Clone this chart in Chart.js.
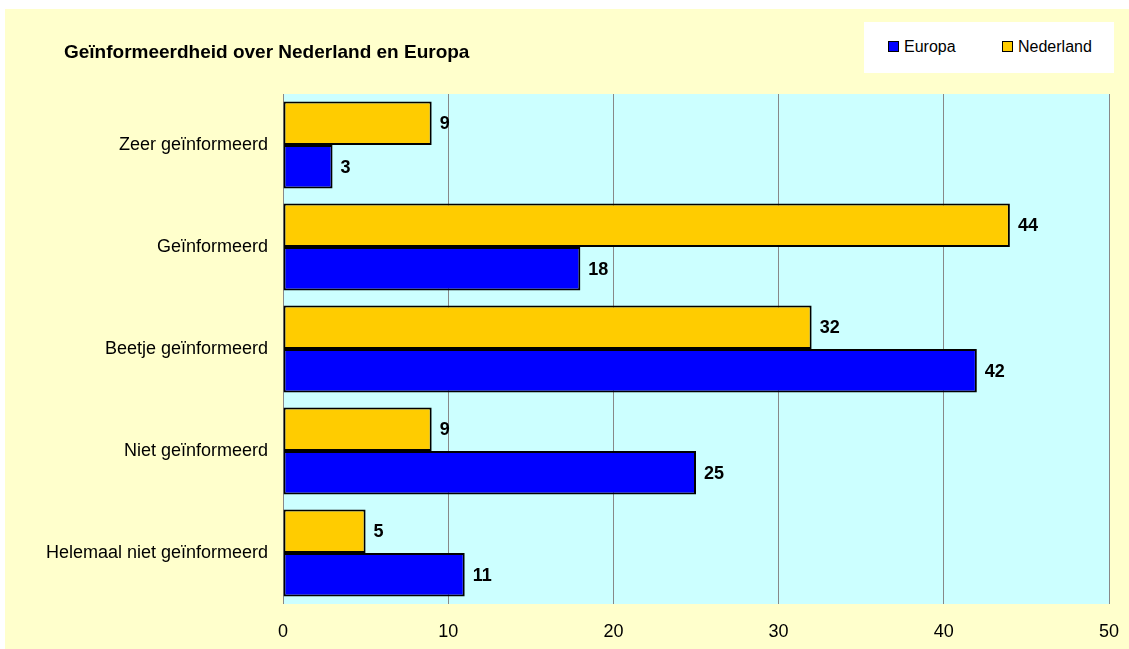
<!DOCTYPE html>
<html>
<head>
<meta charset="utf-8">
<script src="https://cdn.jsdelivr.net/npm/chart.js@4.4.0/dist/chart.umd.min.js"></script>
<style>
  html, body { margin: 0; padding: 0; background: #ffffff; }
  #wrap { position: relative; width: 1129px; height: 649px; overflow: hidden; }
  #bg { position: absolute; left: 5px; top: 9px; right: 0; bottom: 0; background: #FFFFCC; }
  #chartBox { position: absolute; left: 0; top: 0; width: 1129px; height: 649px; }
  #title {
    position: absolute; left: 64px; top: 41px;
    font: bold 19px "Liberation Sans", Arial, sans-serif; line-height: 22px; color: #000;
  }
  #legend {
    position: absolute; left: 864px; top: 22px; width: 250px; height: 51px;
    background: #ffffff; font: 16px "Liberation Sans", Arial, sans-serif; color: #000;
  }
  #legend .item { position: absolute; top: 15px; line-height: 20px; white-space: nowrap; }
  #legend .sw {
    display: inline-block; width: 9px; height: 9px; border: 1px solid #000;
    margin-right: 5px; vertical-align: 0px;
  }
</style>
</head>
<body>
<div id="wrap">
  <div id="bg"></div>
  <div id="chartBox"><canvas id="chart"></canvas></div>
  <div id="title">Geïnformeerdheid over Nederland en Europa</div>
  <div id="legend"></div>
</div>
<script>
// chart data
const categories = ['Zeer geïnformeerd', 'Geïnformeerd', 'Beetje geïnformeerd', 'Niet geïnformeerd', 'Helemaal niet geïnformeerd'];
const nederland = [9, 44, 32, 9, 5];
const europa = [3, 18, 42, 25, 11];
const xTicks = [0, 10, 20, 30, 40, 50];

const FONT = '"Liberation Sans", Arial, sans-serif';

// cyan plot background
const plotBg = {
    id: 'plotBg',
    beforeDraw(chart) {
        const a = chart.chartArea;
        const ctx = chart.ctx;
        ctx.save();
        ctx.fillStyle = '#CCFFFF';
        ctx.fillRect(a.left, a.top, a.right - a.left, a.bottom - a.top);
        ctx.restore();
    }
};

// value labels right of each bar
const valueLabels = {
    id: 'valueLabels',
    afterDatasetsDraw(chart) {
        const ctx = chart.ctx;
        ctx.save();
        ctx.font = 'bold 18px ' + FONT;
        ctx.fillStyle = '#000';
        ctx.textAlign = 'left';
        ctx.textBaseline = 'middle';
        chart.data.datasets.forEach(function(ds, i) {
            chart.getDatasetMeta(i).data.forEach(function(el, j) {
                ctx.fillText(String(ds.data[j]), el.x + 8, el.y + 1);
            });
        });
        ctx.restore();
    }
};

const ctx = document.getElementById('chart').getContext('2d');
const chart = new Chart(ctx, {
    type: 'bar',
    data: {
        labels: categories,
        datasets: [{
            label: 'Nederland',
            data: nederland,
            backgroundColor: '#FFCC00',
            borderColor: '#000000',
            borderWidth: 2,
            borderSkipped: false
        }, {
            label: 'Europa',
            data: europa,
            backgroundColor: '#0000FF',
            borderColor: '#000000',
            borderWidth: 2,
            borderSkipped: false
        }]
    },
    options: {
        indexAxis: 'y',
        responsive: true,
        maintainAspectRatio: false,
        animation: false,
        categoryPercentage: 0.855,
        barPercentage: 1.0,
        layout: { padding: { top: 94, right: 20, left: 0, bottom: 0 } },
        scales: {
            x: {
                min: 0,
                max: 50,
                afterBuildTicks: function(scale) {
                    scale.ticks = xTicks.map(function(v) { return { value: v }; });
                },
                afterFit: function(scale) {
                    scale.height = 45;
                    scale.paddingLeft = 0;
                    scale.paddingRight = 0;
                },
                grid: { color: '#888888', lineWidth: 1, drawTicks: false },
                border: { display: false },
                ticks: { color: '#000', font: { family: FONT, size: 18 }, padding: 17 }
            },
            y: {
                afterFit: function(scale) { scale.width = 283; },
                grid: { display: false, drawTicks: false },
                border: { display: false },
                ticks: { color: '#000', font: { family: FONT, size: 18 }, padding: 15 }
            }
        },
        plugins: {
            legend: { display: false },
            title: { display: false },
            tooltip: { enabled: false }
        }
    },
    plugins: [plotBg, valueLabels]
});

// html legend, Europa first like the original
const legendEl = document.getElementById('legend');
const lefts = [24, 138];
chart.data.datasets.slice().reverse().forEach(function(ds, i) {
    const item = document.createElement('div');
    item.className = 'item';
    item.style.left = lefts[i] + 'px';
    item.innerHTML = '<span class="sw" style="background:' + ds.backgroundColor + '"></span>' + ds.label;
    legendEl.appendChild(item);
});
</script>
</body>
</html>
